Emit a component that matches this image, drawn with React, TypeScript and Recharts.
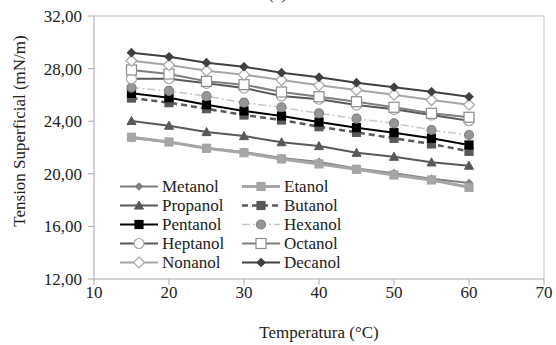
import React from "react";
import {
  LineChart,
  Line,
  XAxis,
  YAxis,
  ReferenceLine,
} from "recharts";

const temperatures = [15, 20, 25, 30, 35, 40, 45, 50, 55, 60];

const metanol = [22.72, 22.4, 21.96, 21.66, 21.2, 20.9, 20.4, 20.05, 19.62, 19.3];
const etanol = [22.78, 22.42, 21.94, 21.6, 21.13, 20.75, 20.34, 19.91, 19.53, 18.97];
const propanol = [24.02, 23.66, 23.18, 22.87, 22.4, 22.11, 21.6, 21.3, 20.87, 20.62];
const butanol = [25.76, 25.41, 24.95, 24.47, 24.09, 23.58, 23.15, 22.7, 22.27, 21.71];
const pentanol = [26.12, 25.79, 25.25, 24.78, 24.4, 23.94, 23.51, 23.13, 22.7, 22.19];
const hexanol = [26.55, 26.3, 25.9, 25.41, 25.06, 24.6, 24.19, 23.84, 23.33, 22.95];
const heptanol = [27.23, 27.23, 26.88, 26.52, 25.92, 25.67, 25.23, 24.9, 24.47, 24.04];
const octanol = [27.9, 27.59, 27.03, 26.78, 26.22, 25.86, 25.48, 25.06, 24.6, 24.3];
const nonanol = [28.6, 28.27, 27.84, 27.54, 27.13, 26.73, 26.37, 26.02, 25.61, 25.25];
const decanol = [29.21, 28.9, 28.45, 28.14, 27.69, 27.34, 26.93, 26.58, 26.24, 25.86];

const xTicks = [10, 20, 30, 40, 50, 60, 70];
const yTicks = [12, 16, 20, 24, 28, 32];

const series = [
  { name: "Metanol", values: metanol, stroke: "#7f7f7f", width: 2, dash: undefined, shape: "diamond", fill: "#7f7f7f", mStroke: "#7f7f7f", size: 7 },
  { name: "Etanol", values: etanol, stroke: "#a6a6a6", width: 3, dash: undefined, shape: "square", fill: "#a6a6a6", mStroke: "#a6a6a6", size: 8 },
  { name: "Propanol", values: propanol, stroke: "#595959", width: 2, dash: undefined, shape: "triangle", fill: "#595959", mStroke: "#595959", size: 9 },
  { name: "Butanol", values: butanol, stroke: "#595959", width: 2.5, dash: "6 4", shape: "square", fill: "#595959", mStroke: "#595959", size: 8 },
  { name: "Pentanol", values: pentanol, stroke: "#000000", width: 2, dash: undefined, shape: "square", fill: "#000000", mStroke: "#000000", size: 8 },
  { name: "Hexanol", values: hexanol, stroke: "#c8c8c8", width: 1.5, dash: "8 3 2 3", shape: "circle", fill: "#969696", mStroke: "#7f7f7f", size: 9 },
  { name: "Heptanol", values: heptanol, stroke: "#595959", width: 2, dash: undefined, shape: "circle", fill: "#ffffff", mStroke: "#a6a6a6", size: 10 },
  { name: "Octanol", values: octanol, stroke: "#7f7f7f", width: 2, dash: undefined, shape: "square", fill: "#ffffff", mStroke: "#8c8c8c", size: 10 },
  { name: "Nonanol", values: nonanol, stroke: "#a6a6a6", width: 2, dash: undefined, shape: "diamond", fill: "#ffffff", mStroke: "#a6a6a6", size: 11 },
  { name: "Decanol", values: decanol, stroke: "#404040", width: 2, dash: undefined, shape: "diamond", fill: "#404040", mStroke: "#404040", size: 8 },
];

const data = temperatures.map((t, i) => {
  const row: any = { t };
  series.forEach((s) => (row[s.name] = s.values[i]));
  return row;
});

const FONT = "Liberation Serif, Times New Roman, DejaVu Serif, serif";

function Marker({ cx, cy, shape, fill, stroke, size }: any) {
  const h = size / 2;
  if (shape === "square")
    return <rect x={cx - h} y={cy - h} width={size} height={size} fill={fill} stroke={stroke} strokeWidth={1.2} />;
  if (shape === "circle")
    return <circle cx={cx} cy={cy} r={h} fill={fill} stroke={stroke} strokeWidth={1.2} />;
  if (shape === "triangle")
    return <polygon points={`${cx},${cy - h} ${cx + h},${cy + h * 0.8} ${cx - h},${cy + h * 0.8}`} fill={fill} stroke={stroke} strokeWidth={1} />;
  return <polygon points={`${cx},${cy - h} ${cx + h},${cy} ${cx},${cy + h} ${cx - h},${cy}`} fill={fill} stroke={stroke} strokeWidth={1.2} />;
}

function LegendItem({ s }: any) {
  return (
    <div style={{ display: "flex", alignItems: "center", height: 19 }}>
      <svg width={40} height={19} style={{ flex: "none" }}>
        <line x1={1} y1={9.5} x2={39} y2={9.5} stroke={s.stroke} strokeWidth={s.width} strokeDasharray={s.dash} />
        <Marker cx={20} cy={9.5} shape={s.shape} fill={s.fill} stroke={s.mStroke} size={s.size} />
      </svg>
      <span style={{ marginLeft: 3, fontSize: 17, lineHeight: "19px", whiteSpace: "nowrap" }}>{s.name}</span>
    </div>
  );
}

export default function App() {
  return (
    <div style={{ position: "absolute", left: 0, top: 0, width: 556, height: 345, fontFamily: FONT, background: "#fff", overflow: "hidden" }}>
      <LineChart width={556} height={345} data={data} margin={{ top: 16, right: 12, bottom: 36, left: 0 }} style={{ fontFamily: FONT }}>
        <XAxis
          dataKey="t"
          type="number"
          domain={[10, 70]}
          ticks={xTicks}
          height={30}
          stroke="#a6a6a6"
          tickSize={6}
          tickMargin={1}
          tick={{ fill: "#222", fontSize: 17, fontFamily: FONT }}
        />
        <YAxis
          type="number"
          domain={[12, 32]}
          ticks={yTicks}
          width={94}
          stroke="#a6a6a6"
          tickSize={6}
          tickMargin={6}
          tickFormatter={(v: number) => v.toFixed(2).replace(".", ",")}
          tick={{ fill: "#222", fontSize: 17, fontFamily: FONT }}
        />
        <ReferenceLine y={32} stroke="#bfbfbf" strokeWidth={1} />
        <ReferenceLine x={70} stroke="#bfbfbf" strokeWidth={1} />
        {series.map((s) => (
          <Line
            key={s.name}
            dataKey={s.name}
            stroke={s.stroke}
            strokeWidth={s.width}
            strokeDasharray={s.dash}
            isAnimationActive={false}
            dot={(p: any) => (
              <Marker key={`${s.name}-${p.index}`} cx={p.cx} cy={p.cy} shape={s.shape} fill={s.fill} stroke={s.mStroke} size={s.size} />
            )}
            activeDot={false}
          />
        ))}
      </LineChart>
      <div style={{ position: "absolute", left: 268, top: -15, fontSize: 17, lineHeight: "17px", color: "#333" }}>(a)</div>
      <div
        style={{
          position: "absolute",
          left: 20,
          top: 131,
          transform: "translate(-50%, -50%) rotate(-90deg)",
          whiteSpace: "nowrap",
          fontSize: 17,
          color: "#222",
        }}
      >
        Tension Superficial (mN/m)
      </div>
      <div style={{ position: "absolute", left: 319, top: 333, transform: "translate(-50%, -50%)", whiteSpace: "nowrap", fontSize: 17, color: "#222" }}>
        Temperatura (°C)
      </div>
      <div
        style={{
          position: "absolute",
          left: 119,
          top: 177,
          display: "grid",
          gridTemplateColumns: "122px 130px",
          color: "#222",
        }}
      >
        {series.map((s) => (
          <LegendItem key={s.name} s={s} />
        ))}
      </div>
    </div>
  );
}
